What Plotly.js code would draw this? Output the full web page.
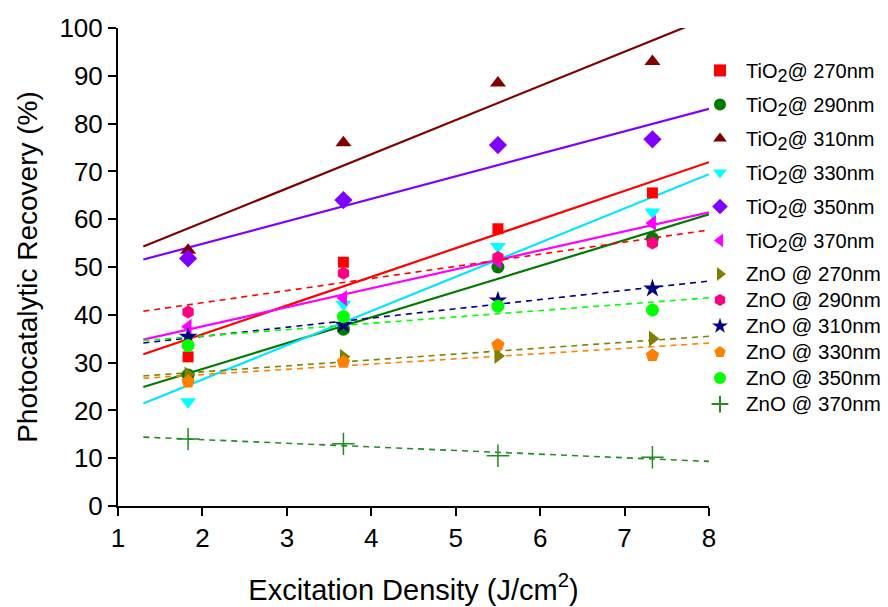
<!DOCTYPE html>
<html>
<head>
<meta charset="utf-8">
<script src="https://cdn.plot.ly/plotly-3.0.1.min.js"></script>
<style>
  html, body { margin: 0; padding: 0; background: #fff; }
  #chart { width: 888px; height: 607px; }
</style>
</head>
<body>
<div id="chart"></div>
<script>
// Excitation density (J/cm^2) for each measurement
const xDensity = [1.83, 3.67, 5.5, 7.33];

// Photocatalytic recovery (%) per series
const tio2_270 = [31.2, 51.0, 58.0, 65.5];
const tio2_290 = [27.4, 37.0, 50.0, 56.0];
const tio2_310 = [53.5, 76.0, 88.5, 93.0];
const tio2_330 = [21.8, 42.2, 54.3, 61.5];
const tio2_350 = [51.8, 64.0, 75.5, 76.7];
const tio2_370 = [37.5, 43.5, 51.2, 59.2];
const zno_270 = [27.5, 31.2, 31.4, 35.0];
const zno_290 = [40.6, 48.7, 52.0, 55.0];
const zno_310 = [35.4, 37.9, 43.0, 45.5];
const zno_330 = [26.0, 30.1, 33.7, 31.5];
const zno_350 = [33.6, 39.6, 41.8, 41.0];
const zno_370 = [14.0, 13.0, 10.5, 10.2];

const sub2 = '<sub><span style="font-size:18px">2</span></sub>';
const seriesNames = [
  "TiO" + sub2 + "@ 270nm", "TiO" + sub2 + "@ 290nm", "TiO" + sub2 + "@ 310nm",
  "TiO" + sub2 + "@ 330nm", "TiO" + sub2 + "@ 350nm", "TiO" + sub2 + "@ 370nm",
  "ZnO @ 270nm", "ZnO @ 290nm", "ZnO @ 310nm",
  "ZnO @ 330nm", "ZnO @ 350nm", "ZnO @ 370nm"
];
const seriesValues = [tio2_270, tio2_290, tio2_310, tio2_330, tio2_350, tio2_370,
                      zno_270, zno_290, zno_310, zno_330, zno_350, zno_370];

// styles
const markerColors = ["#FF0000", "#007A00", "#800000", "#00FFFF", "#8000FF", "#FF00FF",
                      "#808000", "#FF0080", "#000080", "#FF8000", "#00FF00", "#228B22"];
const markerSymbols = ["square", "circle", "triangle-up", "triangle-down", "diamond", "triangle-left",
                       "triangle-right", "hexagon", "star", "pentagon", "circle", "cross-thin-open"];
const markerSizes = [11, 13, 14, 14, 14, 14, 14, 13, 14, 14, 13, 16];
const fitColors = ["#FF0000", "#007A00", "#800000", "#00E5FF", "#8000FF", "#FF00FF",
                   "#808000", "#FF0000", "#000080", "#FF8000", "#00FF00", "#228B22"];
const fitRange = [1.3, 8];

function linFit(xs, ys) {
  const n = xs.length;
  const mx = xs.reduce((a, b) => a + b, 0) / n;
  const my = ys.reduce((a, b) => a + b, 0) / n;
  let sxy = 0, sxx = 0;
  for (let i = 0; i < n; i++) { sxy += (xs[i] - mx) * (ys[i] - my); sxx += (xs[i] - mx) ** 2; }
  const m = sxy / sxx;
  return x => my + m * (x - mx);
}

const traces = [];
// fit lines first (drawn beneath markers)
seriesValues.forEach((ys, i) => {
  const f = linFit(xDensity, ys);
  const isZnO = i >= 6;
  traces.push({
    x: fitRange, y: fitRange.map(f), mode: "lines", type: "scatter",
    showlegend: false, hoverinfo: "skip",
    line: { color: fitColors[i], width: isZnO ? 1.6 : 2.2, dash: isZnO ? "6px,5px" : "solid" }
  });
});
seriesValues.forEach((ys, i) => {
  const open = markerSymbols[i].indexOf("open") >= 0;
  const isZnO = i >= 6;
  traces.push({
    x: xDensity, y: ys, mode: "markers", type: "scatter",
    name: isZnO ? '<span style="font-size:20.5px">' + seriesNames[i] + '</span>' : seriesNames[i],
    legend: isZnO ? "legend2" : "legend",
    legendgroup: "g" + i,
    marker: { color: markerColors[i], symbol: markerSymbols[i], size: markerSizes[i],
              line: { width: open ? 1.5 : 0, color: markerColors[i] } }
  });
});

const font = "Arial, 'Liberation Sans', sans-serif";
const layout = {
  width: 888, height: 607,
  margin: { l: 118, r: 179, t: 28, b: 101, pad: 0, autoexpand: false },
  paper_bgcolor: "#fff", plot_bgcolor: "#fff",
  font: { family: font, color: "#000" },
  showlegend: true,
  legend: {
    x: 0.9746, xanchor: "left", y: 0.952, yanchor: "top",
    font: { size: 20, family: font, color: "#000" }, itemwidth: 42,
    itemsizing: "constant", tracegroupgap: 5, bgcolor: "rgba(0,0,0,0)"
  },
  legend2: {
    x: 0.9746, xanchor: "left", y: 0.523, yanchor: "top",
    font: { size: 17.7, family: font, color: "#000" }, itemwidth: 42,
    itemsizing: "constant", tracegroupgap: 0, bgcolor: "rgba(0,0,0,0)"
  },
  xaxis: {
    range: [1, 8], tickvals: [1, 2, 3, 4, 5, 6, 7, 8],
    showgrid: false, zeroline: false, showline: true, linecolor: "#000", linewidth: 2,
    ticks: "outside", ticklen: 8, tickwidth: 2, tickcolor: "#000",
    tickfont: { size: 26, family: font },
    title: { text: "Excitation Density (J/cm<sup>2</sup>)", font: { size: 29, family: font }, standoff: 27 }
  },
  yaxis: {
    range: [0, 100], tickvals: [0, 10, 20, 30, 40, 50, 60, 70, 80, 90, 100],
    showgrid: false, zeroline: false, showline: true, linecolor: "#000", linewidth: 2,
    ticks: "outside", ticklen: 8, tickwidth: 2, tickcolor: "#000",
    tickfont: { size: 26, family: font },
    title: { text: "Photocatalytic Recovery (%)", font: { size: 28, family: font }, standoff: 14 }
  }
};

Plotly.newPlot("chart", traces, layout, { displayModeBar: false, staticPlot: true });
</script>
</body>
</html>
